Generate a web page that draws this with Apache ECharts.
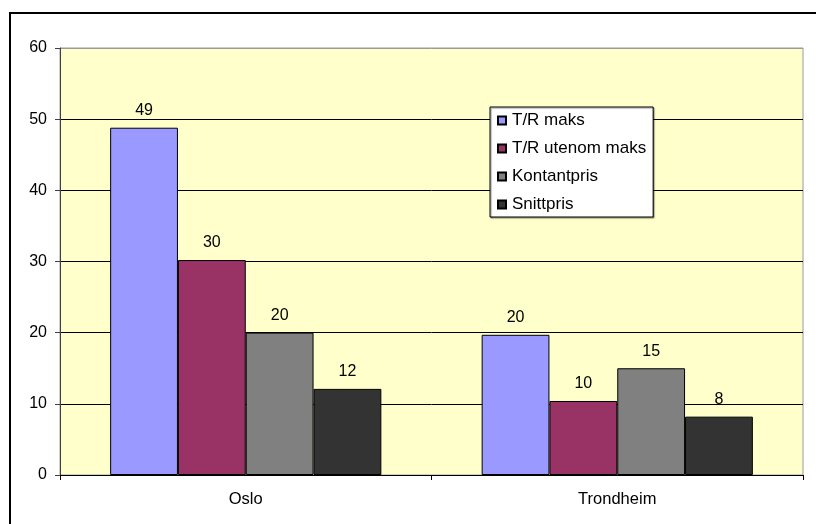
<!DOCTYPE html>
<html>
<head>
<meta charset="utf-8">
<script src="https://cdn.jsdelivr.net/npm/echarts@6/dist/echarts.min.js"></script>
<style>
  html, body { margin: 0; padding: 0; background: #ffffff; }
  #chart { width: 816px; height: 524px; }
</style>
</head>
<body>
<div id="chart"></div>
<script>
// Cities on the category axis
const categories = ['Oslo', 'Trondheim'];
// Price series per city
const trMaks = [48.8, 19.7];
const trUtenomMaks = [30.2, 10.4];
const kontantpris = [20.0, 15.0];
const snittpris = [12.1, 8.2];
const seriesNames = ['T/R maks', 'T/R utenom maks', 'Kontantpris', 'Snittpris'];
const seriesColors = ['#9999FF', '#993366', '#808080', '#333333'];
const yTicks = [0, 10, 20, 30, 40, 50, 60];

const seriesData = [trMaks, trUtenomMaks, kontantpris, snittpris];
const font = 'Liberation Sans, Arial, sans-serif';

const chart = echarts.init(document.getElementById('chart'), null, { renderer: 'canvas' });

chart.setOption({
  animation: false,
  backgroundColor: '#ffffff',
  textStyle: { fontFamily: font },
  graphic: [{
    type: 'rect',
    shape: { x: 10, y: 13, width: 900, height: 700 },
    style: { fill: 'none', stroke: '#000000', lineWidth: 2 },
    z: 100
  }],
  grid: {
    left: 60, top: 48, right: 13, bottom: 49,
    show: true,
    backgroundColor: '#FFFFCC',
    borderColor: '#9a9a9a',
    borderWidth: 1
  },
  legend: {
    data: seriesNames,
    orient: 'vertical',
    left: 490,
    top: 107,
    padding: [5, 7, 4, 7],
    itemGap: 11,
    itemWidth: 8,
    itemHeight: 8,
    icon: 'rect',
    backgroundColor: '#ffffff',
    borderColor: '#000000',
    borderWidth: 1,
    shadowColor: 'rgba(0,0,0,0.45)',
    shadowBlur: 1,
    shadowOffsetX: 1,
    shadowOffsetY: 1,
    textStyle: { fontFamily: font, fontSize: 17, color: '#000000', lineHeight: 16, padding: [0, 0, 0, 1] }
  },
  xAxis: {
    type: 'category',
    data: categories,
    axisLine: { lineStyle: { color: '#000000', width: 1 } },
    axisTick: { show: true, length: 5, inside: false, lineStyle: { color: '#000000' } },
    axisLabel: { fontFamily: font, fontSize: 16.5, color: '#000000', margin: 16 }
  },
  yAxis: {
    type: 'value',
    min: yTicks[0],
    max: yTicks[yTicks.length - 1],
    interval: 10,
    axisLine: { show: true, lineStyle: { color: '#404040', width: 1 } },
    axisTick: { show: true, length: 5, lineStyle: { color: '#404040' } },
    axisLabel: { fontFamily: font, fontSize: 16, color: '#000000', margin: 13 },
    splitLine: {
      show: true,
      lineStyle: { color: ['#000000', '#000000', '#000000', '#000000', '#000000', '#000000', '#9a9a9a'], width: 1 }
    }
  },
  series: seriesData.map((vals, i) => ({
    name: seriesNames[i],
    type: 'bar',
    data: vals,
    barGap: '0%',
    barCategoryGap: '27%',
    itemStyle: { color: seriesColors[i], borderColor: '#000000', borderWidth: 1 },
    label: {
      show: true,
      position: 'top',
      distance: 9,
      fontFamily: font,
      fontSize: 16,
      color: '#000000',
      formatter: p => Math.round(p.value)
    }
  }))
});
</script>
</body>
</html>
